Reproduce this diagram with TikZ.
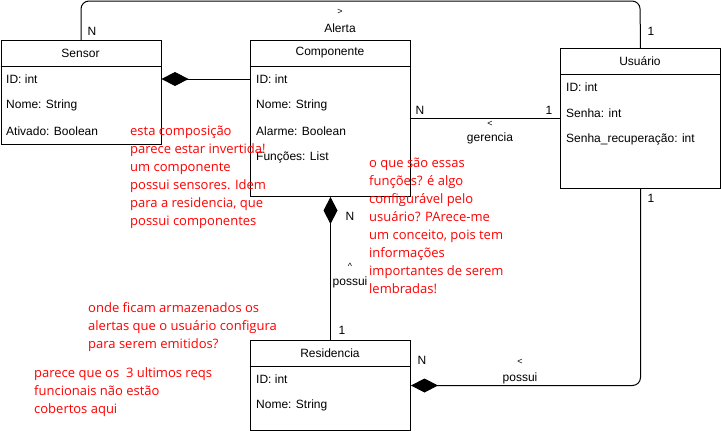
\documentclass[tikz,border=0pt]{standalone}
\usepackage{fontspec}
\setmainfont{Liberation Sans}
\newfontfamily\remarkfamily{Open Sans}
\usetikzlibrary{arrows.meta,positioning}
\newcommand{\umlfont}{\fontsize{12}{14}\selectfont}
\newcommand{\remarkfont}{\remarkfamily\fontsize{13}{18}\selectfont}
\newcommand{\tipfont}{\fontsize{9}{10}\selectfont}
\tikzset{
  classbox/.style={draw=black, line width=1pt, anchor=north west, inner sep=0pt},
  classname/.style={font=\umlfont, inner sep=0pt},
  attr/.style={font=\umlfont, anchor=west, inner sep=0pt},
  lbl/.style={font=\umlfont, inner sep=0pt},
  dirtip/.style={font=\tipfont, inner sep=0pt},
  remark/.style={font=\remarkfont, text=red, align=left, anchor=north west, inner sep=0pt},
  assoc/.style={line width=1pt, draw=black},
  compo/.style={assoc, -{Diamond[length=27pt,width=14pt]}}
}

\begin{document}
\begin{tikzpicture}[x=1pt,y=-1pt]
  \useasboundingbox (0,0) rectangle (721,431);

  % classes
  \node[classbox,minimum width=160pt,minimum height=104pt] (sensor) at (0.5,40) {};
  \draw[assoc] ([yshift=-26pt]sensor.north west) -- ([yshift=-26pt]sensor.north east);
  \node[classname] (sensorT) at (80.5,53) {Sensor};
  \node[attr] (sensorId) at (6,79) {ID: int};
  \node[attr] (sensorNome) at (6,105) {Nome: String};
  \node[attr] (sensorAtiv) at (6,131) {Ativado: Boolean};

  \node[classbox,minimum width=160pt,minimum height=156pt] (componente) at (250,40) {};
  \draw[assoc] ([yshift=-26pt]componente.north west) -- ([yshift=-26pt]componente.north east);
  \node[classname] (componenteT) at (330,53) {Componente};
  \node[attr] (compId) at (256,79) {ID: int};
  \node[attr] (compNome) at (256,105) {Nome: String};
  \node[attr] (compAlarme) at (256,131) {Alarme: Boolean};
  \node[attr] (compFuncoes) at (256,157) {Funções: List};

  \node[classbox,minimum width=160pt,minimum height=140pt] (usuario) at (560,48) {};
  \draw[assoc] ([yshift=-26pt]usuario.north west) -- ([yshift=-26pt]usuario.north east);
  \node[classname] (usuarioT) at (640,61) {Usuário};
  \node[attr] (usuarioId) at (566,87) {ID: int};
  \node[attr] (usuarioSenha) at (566,113) {Senha: int};
  \node[attr] (usuarioRec) at (566,139) {Senha\_recuperação: int};

  \node[classbox,minimum width=160pt,minimum height=90pt] (residencia) at (250,340) {};
  \draw[assoc] ([yshift=-26pt]residencia.north west) -- ([yshift=-26pt]residencia.north east);
  \node[classname] (residenciaT) at (330,353) {Residencia};
  \node[attr] (resId) at (256,379) {ID: int};
  \node[attr] (resNome) at (256,405) {Nome: String};

  % associations
  \coordinate (alertaTop) at (640,1);
  \draw[assoc,rounded corners=8pt] (sensor.north) |- (alertaTop) -- (usuario.north);
  \node[lbl] (alertaN) at (92,31) {N};
  \node[lbl] (alerta1) at (651,31) {1};
  \node[dirtip] (alertaDir) at (340,12) {>};
  \node[lbl] (alertaLbl) at (340,28) {Alerta};

  \draw[compo] (compId.west -| componente.west) -- (sensorId.east -| sensor.east);

  \draw[assoc] (componente.east) -- (usuario.west);
  \node[lbl] (gerenciaN) at (420,110) {N};
  \node[lbl] (gerencia1) at (549,110) {1};
  \node[dirtip] (gerenciaDir) at (490,124) {<};
  \node[lbl] (gerenciaLbl) at (490,138) {gerencia};

  \draw[compo] (residencia.north) -- (componente.south);
  \node[lbl] (possuiN) at (350,216) {N};
  \node[dirtip] (possuiDir) at (350,266) {\textasciicircum};
  \node[lbl] (possuiLbl) at (350,282) {possui};
  \node[lbl] (possui1) at (342,330) {1};

  \draw[compo,rounded corners=8pt] (usuario.south) |- (residencia.east);
  \node[lbl] (resPossui1) at (651,198) {1};
  \node[lbl] (resPossuiN) at (422,360) {N};
  \node[dirtip] (resPossuiDir) at (520,362) {<};
  \node[lbl] (resPossuiLbl) at (520,378) {possui};

  % review remarks
  \node[remark] (remarkCompo) at (130,125.5) {esta composição\\parece estar invertida!\\um componente\\possui sensores. Idem\\para a residencia, que\\possui componentes};
  \node[remark] (remarkFuncoes) at (369,157.5) {o que são essas\\funções? é algo\\configurável pelo\\usuário? PArece-me\\um conceito, pois tem\\informações\\importantes de serem\\lembradas!};
  \node[remark] (remarkAlertas) at (88,302) {onde ficam armazenados os\\alertas que o usuário configura\\para serem emitidos?};
  \node[remark] (remarkReqs) at (34,367.5) {parece que os~ 3 ultimos reqs\\funcionais não estão\\cobertos aqui};
\end{tikzpicture}
\end{document}
